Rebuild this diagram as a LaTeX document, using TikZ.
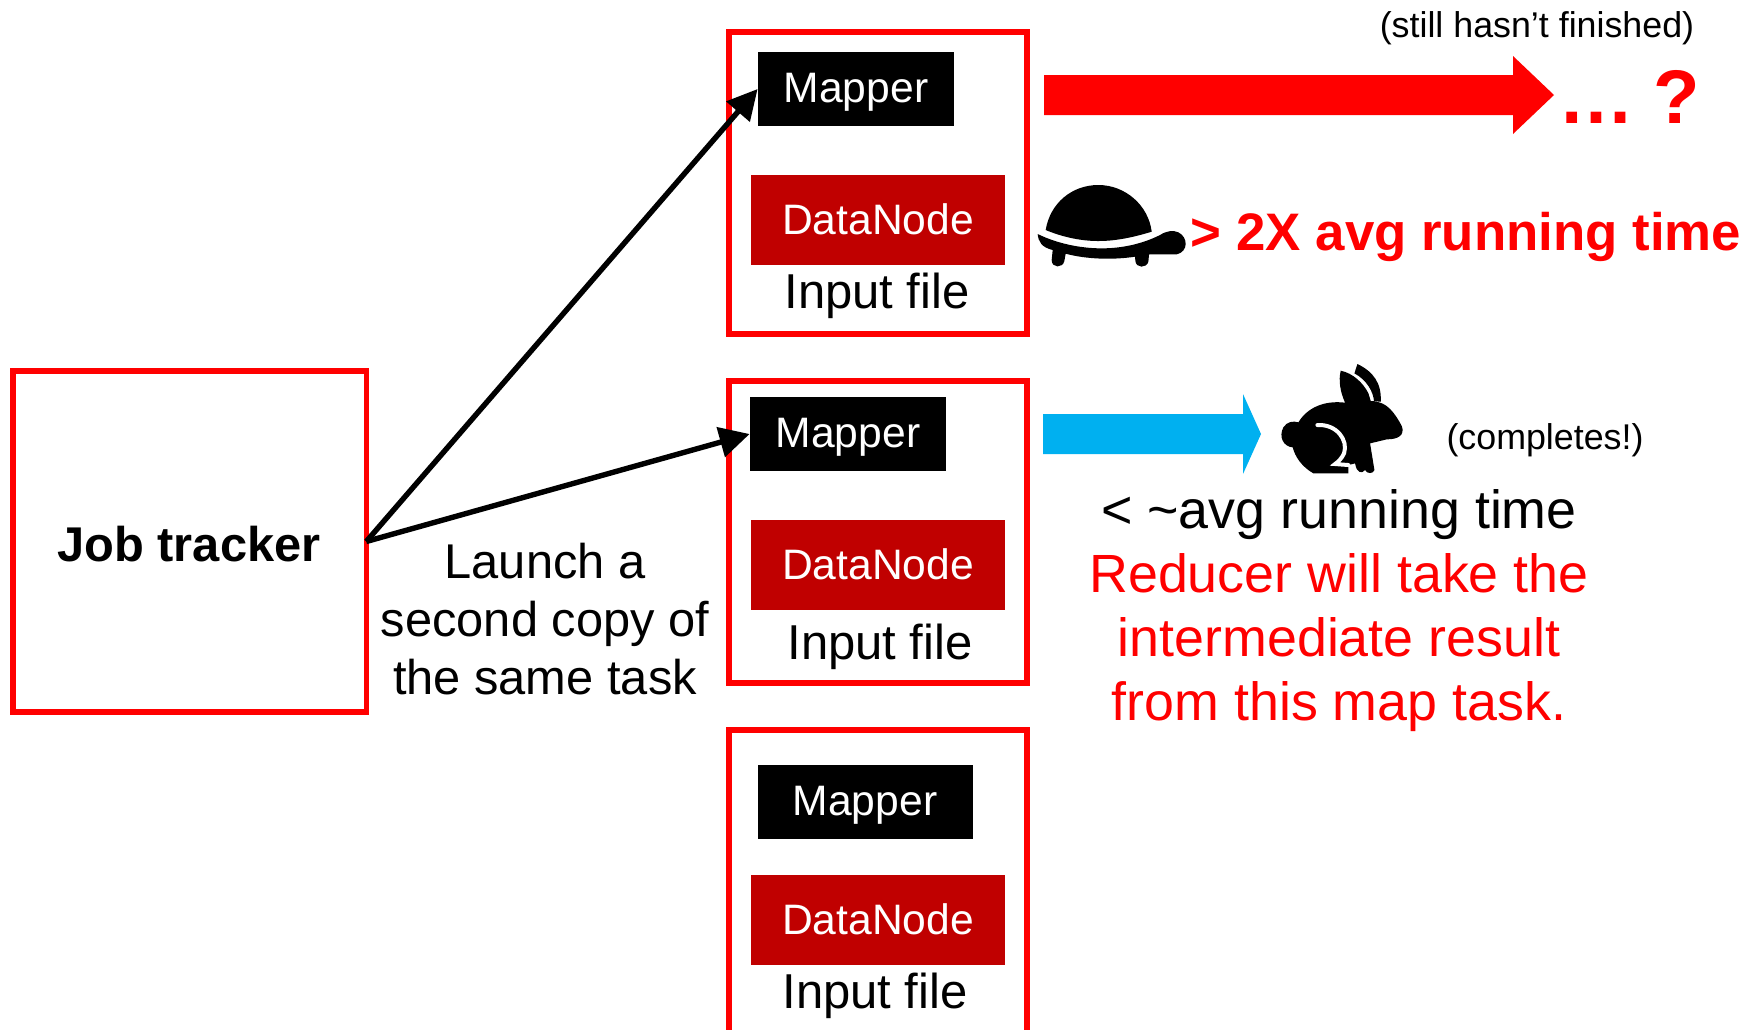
\documentclass[tikz,border=0pt]{standalone}
\usepackage{fontspec}
\setmainfont{Liberation Sans}
\usetikzlibrary{arrows.meta}
\definecolor{datared}{RGB}{192,0,0}
\definecolor{fastblue}{RGB}{0,176,240}
\tikzset{
  redbox/.style={draw=red,line width=2.8pt,fill=none},
  mapperbox/.style={fill=black,inner sep=0pt},
  datanodebox/.style={fill=datared,inner sep=0pt},
  boxtext/.style={text=white,font=\fontsize{21.3}{21.3}\selectfont,inner sep=0pt},
  label/.style={font=\fontsize{24.5}{24.5}\selectfont,align=center,inner sep=0pt},
  note/.style={font=\fontsize{17.9}{17.9}\selectfont,inner sep=0pt},
  launch/.style={-{Triangle[length=15pt,width=15pt]},line width=2.7pt}
}
\begin{document}
\begin{tikzpicture}[x=0.5pt,y=-0.5pt]
  \useasboundingbox (0,0) rectangle (1747,1029);
  % Boxes
  \node[redbox,minimum width=176.8pt,minimum height=170.7pt,inner sep=0pt,outer sep=0pt] (job) at (189.5,541.5) {};
  \draw[redbox] (729,32) rectangle (1027,334);
  \draw[redbox] (729,381) rectangle (1027,683);
  \draw[redbox] (729,730) rectangle (1027,1040);
  \node[font=\fontsize{24.4}{24.4}\selectfont\bfseries,inner sep=0pt] (jobtext) at (189,544) {Job tracker};

  % Mapper, DataNode, Input file
  \node[mapperbox,minimum width=98pt,minimum height=37pt] (map1) at (856,89) {};
  \node[boxtext] (maptext1) at (856,92) {Mapper};
  \node[datanodebox,minimum width=127pt,minimum height=45pt] (data1) at (878,220) {};
  \node[boxtext] (datatext1) at (878,219) {DataNode};
  \node[label] (input1) at (877,296) {Input file};
  \node[mapperbox,minimum width=98pt,minimum height=37pt] (map2) at (848,434) {};
  \node[boxtext] (maptext2) at (848,437) {Mapper};
  \node[datanodebox,minimum width=127pt,minimum height=45pt] (data2) at (878,565) {};
  \node[boxtext] (datatext2) at (878,564) {DataNode};
  \node[label] (input2) at (880,647) {Input file};
  \node[mapperbox,minimum width=107.5pt,minimum height=37pt] (map3) at (865,802) {};
  \node[boxtext] (maptext3) at (865,805) {Mapper};
  \node[datanodebox,minimum width=127pt,minimum height=45pt] (data3) at (878,920) {};
  \node[boxtext] (datatext3) at (878,919) {DataNode};
  \node[label] (input3) at (875,996) {Input file};

  % Launch arrows
  \draw[launch] (job.east) -- (map1.west);
  \draw[launch] (job.east) -- (map2.west);
  \node[label,font=\fontsize{24.4}{29}\selectfont] (launchtext) at (545,619) {Launch a\\second copy of\\the same task};

  % Slow task
  \fill[red] (1044,75) -- (1513,75) -- (1513,56) -- (1554,95) -- (1513,134) -- (1513,115) -- (1044,115) -- cycle;
  \node[note] (stilltext) at (1537,28) {(still hasn’t finished)};
  \node[text=red,font=\fontsize{38}{38}\selectfont\bfseries,inner sep=0pt] (dots) at (1629,97) {…\hspace{-1pt} ?};
  \begin{scope}[shift={(1000,160)},x=0.1667pt,y=-0.1667pt]
    \fill (137,210) .. controls (150,130) and (215,75) .. (295,75) .. controls (375,75) and (445,135) .. (455,215) .. controls (390,235) and (340,243) .. (295,243) .. controls (240,243) and (185,230) .. (137,210) -- cycle;
    \fill (113,222) .. controls (170,250) and (240,265) .. (305,265) .. controls (370,265) and (430,250) .. (480,225) .. controls (500,212) and (520,210) .. (535,217) .. controls (565,232) and (565,275) .. (530,283) -- (447,283) -- (445,305) .. controls (440,325) and (408,325) .. (406,303) -- (405,290) .. controls (340,300) and (260,298) .. (197,281) -- (193,303) .. controls (188,325) and (155,325) .. (155,300) -- (158,270) .. controls (125,262) and (115,245) .. (113,222) -- cycle;
  \end{scope}
  \node[text=red,font=\fontsize{26.4}{26.4}\selectfont\bfseries,inner sep=0pt] (slowtext) at (1466,237) {> 2X avg running time};

  % Fast task
  \fill[fastblue] (1043,414) -- (1243,414) -- (1243,394) -- (1261,434) -- (1243,474) -- (1243,454) -- (1043,454) -- cycle;
  \begin{scope}[shift={(1020,350)},x=0.1667pt,y=-0.1667pt]
    \fill (962,62) .. controls (1000,70) and (1030,100) .. (1045,130) -- (1052,153) -- (1082,155) .. controls (1085,100) and (1060,65) .. (1012,42) -- (1003,70) .. controls (1040,90) and (1060,125) .. (1062,155) .. controls (1100,155) and (1125,190) .. (1145,228) .. controls (1155,255) and (1135,268) .. (1100,268) -- (1050,280) -- (1063,360) .. controls (1060,372) and (1040,372) .. (1035,360) .. controls (1025,372) and (1010,370) .. (1005,340) -- (985,345) -- (985,370) -- (880,370) .. controls (845,350) and (825,320) .. (818,292) .. controls (790,290) and (775,260) .. (790,232) .. controls (800,215) and (820,212) .. (835,217) .. controls (860,175) and (910,150) .. (975,158) .. controls (960,125) and (955,90) .. (962,62) -- cycle;
    \draw[white,line width=2pt,line cap=round] (892,225) .. controls (950,222) and (985,270) .. (972,310) .. controls (965,325) and (955,335) .. (945,342) -- (985,345);
  \end{scope}
  \node[note] (completes) at (1545,440) {(completes!)};
  \node[label,font=\fontsize{26.9}{32}\selectfont] (avgtext) at (1339,515) {< \textasciitilde avg running time};
  \node[label,text=red,font=\fontsize{26.9}{32}\selectfont] (reducer) at (1339,643) {Reducer will take the\\intermediate result\\from this map task.};
\end{tikzpicture}
\end{document}
